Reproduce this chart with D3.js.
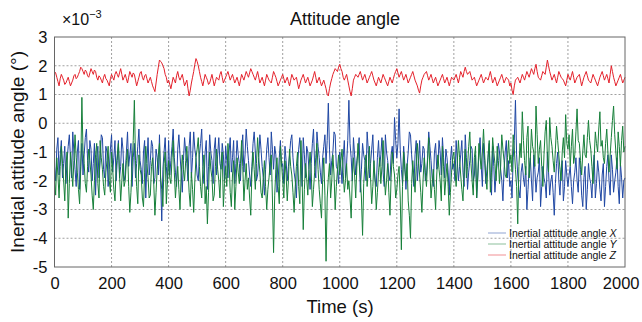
<!DOCTYPE html>
<html><head><meta charset="utf-8">
<script src="https://cdn.jsdelivr.net/npm/d3@7"></script>
<style>body{margin:0;background:#fff;}svg{display:block;font-family:"Liberation Sans",Arial,sans-serif;}</style>
</head><body>
<svg id="c" width="642" height="322"></svg>
<script>
const title = "Attitude angle";
const xLabel = "Time (s)";
const yLabel = "Inertial attitude angle (°)";
const xTicks = [0,200,400,600,800,1000,1200,1400,1600,1800,2000];
const yTicks = [3,2,1,0,-1,-2,-3,-4,-5];
const seriesNames = ["Inertial attitude angle ", "Inertial attitude angle ", "Inertial attitude angle "];
const seriesSym = ["X","Y","Z"];
const colors = ["#1f47a3","#17803a","#e4202a"];
const seriesX = [
-1.5,-2.0,-0.9,-0.5,-1.8,-1.1,-0.6,-1.9,-1.4,-0.8,-2.1,-1.3,-0.8,-0.4,-1.2,-1.9,-0.3,-1.0,-1.6,-2.2,-1.0,-0.6,-2.3,-1.5,-0.7,-1.8,-1.1,-0.5,-0.2,-1.3,-1.7,-0.6,-0.9,-2.0,-1.4,-0.7,-2.5,-1.2,-0.8,-1.9,-1.3,-0.4,-0.5,-1.6,-1.9,-0.8,-1.0,-2.2,-1.6,-0.9,
-0.4,-1.7,-1.2,-0.6,-2.0,-1.3,-0.6,-1.9,-1.5,-0.5,-0.9,-2.0,-1.8,-1.0,-0.3,-1.5,-1.1,-0.7,-2.2,-1.2,-0.7,-1.9,-1.4,-0.8,-0.2,-1.3,-1.6,-2.1,-1.0,-0.6,-2.6,-1.4,-0.5,-1.8,-1.3,-0.6,-0.8,-2.1,-1.9,-0.9,-1.2,-1.8,-0.4,-2.0,-3.4,-1.6,-1.0,-0.5,-1.5,-2.1,
-0.6,-1.8,-1.3,-0.8,-0.2,-1.2,-1.7,-2.2,-0.9,-0.4,-1.1,-1.7,-2.4,-1.3,-0.5,-1.0,-1.4,-2.0,-0.8,-0.3,-1.9,-1.2,-0.3,-0.9,-1.2,-1.8,-2.0,-1.1,-0.7,-0.2,-1.5,-2.1,-1.0,-0.6,-2.3,-1.5,-0.4,-1.0,-1.3,-2.1,-0.9,-0.5,-1.8,-1.1,-0.5,-1.4,-1.6,-0.7,-1.1,-2.0,
-0.8,-1.3,-1.9,-1.0,-0.5,-1.7,-1.2,-0.6,-2.1,-1.4,-0.6,-1.1,-1.4,-2.0,-0.9,-0.4,-1.7,-1.1,-0.2,-0.8,-1.3,-1.8,-2.2,-1.5,-0.7,-0.3,-1.0,-2.0,-1.8,-1.2,-0.4,-0.9,-1.5,-1.9,-2.5,-1.6,-0.9,-0.5,-1.2,-1.8,-0.3,-0.9,-1.6,-0.8,-1.1,-2.4,-2.0,-1.2,-0.6,-1.5,
-1.4,-2.1,-0.8,-1.3,-2.0,-1.5,-1.1,-0.6,-0.4,-1.2,-1.7,-2.0,-2.6,-1.4,-0.9,-0.5,-1.3,-2.2,-0.5,-1.1,-1.9,-0.8,-1.0,-1.6,-2.3,-1.4,-0.7,-0.2,-1.5,-1.9,-0.3,-0.8,-1.2,-1.7,-2.1,-1.2,-0.8,-0.4,-1.4,-0.6,0.7,-0.9,-1.8,-1.3,-1.0,-0.3,-0.4,-1.5,-1.6,-2.1,
-1.0,-1.5,-2.1,-1.2,-0.6,-1.9,-1.4,-0.6,0.8,-0.7,-1.2,-2.0,-0.5,-1.1,-1.8,-1.3,-1.0,-0.5,-2.4,-1.6,-0.7,-1.1,-1.3,-2.0,-0.3,-0.9,-1.9,-1.4,-0.9,-0.4,-1.5,-2.0,-2.2,-1.2,-0.6,-1.5,-1.1,-0.5,-1.7,-2.2,-0.4,-1.0,-1.3,-1.8,-2.0,-1.1,-0.8,-1.4,0.2,-0.6,
-1.2,-0.7,0.5,-0.9,-1.6,-2.1,-0.8,-1.4,-2.3,-1.5,-1.0,-0.3,-0.4,-1.1,-1.7,-2.2,-1.1,-0.6,-2.0,-1.4,-0.6,-1.7,-1.4,-0.8,-0.9,-2.0,-1.8,-1.2,-0.3,-0.8,-1.3,-1.9,-2.2,-1.0,-0.7,-1.6,-1.5,-0.6,-1.0,-1.8,-0.5,-1.2,-1.9,-0.9,-1.2,-1.7,-2.5,-1.3,-0.8,-1.6,
-1.4,-2.0,-0.6,-1.3,-2.0,-1.5,-1.1,-0.6,-1.7,-2.2,-0.4,-1.2,-2.3,-1.7,-1.3,-0.8,-0.9,-2.0,-1.8,-1.1,-2.6,-1.9,-1.0,-0.5,-1.5,-2.2,-0.7,-1.3,-2.1,-1.6,-1.2,-0.7,-1.9,-2.5,-0.8,-1.5,-2.4,-1.8,-1.4,-0.7,-1.0,-1.6,-2.0,-2.7,-1.6,-1.0,-0.6,-1.9,-1.3,-2.2,
-2.0,-2.6,-1.2,-0.6,0.8,-1.1,-1.8,-2.3,-2.6,-1.7,-1.4,-1.9,-2.2,-1.5,-3.0,-2.3,-1.6,-1.2,-2.0,-2.7,-1.1,-1.6,-2.4,-1.9,-1.7,-1.2,-2.9,-2.2,-1.5,-1.9,-2.1,-2.6,-1.0,-1.7,-2.5,-2.0,-1.8,-2.4,-3.2,-2.1,-1.4,-1.0,-2.0,-2.5,-1.6,-1.3,-2.7,-2.2,-1.3,-1.8,
-2.2,-1.8,-1.5,-2.2,-2.8,-2.0,-1.7,-1.2,-2.0,-2.4,-1.2,-1.6,-2.5,-2.9,-1.9,-1.5,-3.0,-2.3,-1.4,-1.9,-2.1,-2.6,-1.6,-1.1,-2.6,-2.1,-1.3,-1.7,-2.3,-2.7,-1.8,-1.4,-2.9,-2.2,-1.5,-1.1,-2.0,-2.5,-1.1,-1.6,-2.4,-2.0,-1.7,-1.2,-2.2,-2.8,-1.4,-1.9,-2.6,-2.0,
-1.9];
const seriesY = [
-1.9,-2.5,-1.2,-1.8,-2.6,-1.5,-0.8,-1.4,-2.0,-2.7,-1.5,-1.0,-3.3,-2.1,-1.0,-1.6,-2.2,-1.3,-0.4,-1.2,-1.7,-2.3,-2.8,-1.6,0.9,-1.0,-1.4,-2.1,-2.4,-1.5,-0.9,-1.3,-1.8,-2.5,-3.0,-2.0,-1.1,-0.7,-2.1,-2.6,-0.6,-1.2,-1.6,-2.2,-2.5,-1.7,-1.3,-0.8,-2.0,-2.4,
-1.0,-1.6,-2.3,-2.7,-1.6,-1.1,-0.7,-1.8,-2.7,-2.0,-1.4,-2.2,-2.0,-1.3,-0.9,-2.2,-3.1,-2.4,-1.5,-0.6,0.8,-1.3,-2.2,-2.8,-1.1,-1.6,-1.8,-2.6,-2.9,-1.7,-0.8,-1.4,-1.9,-2.6,-2.5,-1.5,-1.2,-2.1,-3.2,-2.4,-1.6,-1.1,-0.7,-1.9,-2.3,-2.9,-1.4,-1.0,-2.8,-2.0,
-1.3,-1.9,-2.1,-1.2,-0.6,-1.7,-2.6,-2.0,-1.5,-2.3,-3.0,-1.8,-1.1,-1.6,-2.0,-1.3,-0.8,-1.6,-2.4,-2.9,-1.7,-2.3,-3.1,-2.0,-1.2,-0.9,-0.5,-1.5,-2.2,-2.6,-1.6,-1.1,-2.8,-2.2,-3.5,-2.4,-1.0,-1.6,-1.9,-2.7,-2.5,-1.5,-0.9,-1.6,-2.0,-2.6,-1.4,-1.0,-2.9,-2.1,
-1.5,-2.2,-0.7,-1.3,-2.4,-2.9,-1.8,-1.3,-3.0,-2.2,-1.2,-1.7,-2.1,-1.4,-0.6,-1.5,-2.7,-2.0,-1.4,-2.3,-1.9,-2.6,-3.2,-1.7,-1.0,-1.6,-2.3,-1.4,-0.5,-1.2,-1.7,-2.4,-2.6,-1.9,-1.3,-2.2,-3.0,-2.3,-1.9,-1.4,-1.1,-2.6,-4.5,-2.5,-1.6,-1.2,-2.2,-2.8,-0.8,-1.4,
-2.0,-2.6,-1.3,-1.8,-2.7,-2.0,-0.9,-1.5,-1.8,-2.4,-3.1,-2.2,-1.5,-1.0,-2.2,-2.8,-0.6,-1.9,-3.7,-2.3,-1.4,-1.9,-2.5,-1.6,-1.0,-1.7,-2.9,-2.3,-1.7,-1.2,-0.7,-1.6,-2.3,-2.8,-3.3,-2.0,-1.2,-2.5,-4.8,-2.6,-1.9,-1.4,-2.6,-2.0,-1.1,-1.8,-3.0,-2.2,-1.6,-1.1,
-1.8,-1.3,-0.9,-1.7,-2.4,-2.0,-1.4,-2.3,-2.0,-2.6,-3.3,-1.9,-1.2,-1.8,-2.6,-1.5,-0.7,-1.4,-1.9,-2.6,-3.9,-2.1,-1.5,-1.1,-2.2,-1.6,-0.8,-1.9,-2.8,-2.2,-1.3,-2.0,-3.0,-2.4,-1.7,-1.2,-2.1,-1.5,-0.6,-1.7,-2.5,-2.0,-1.4,-2.4,-3.2,-1.9,-1.0,-1.5,-1.8,-2.6,
-2.3,-1.8,-1.5,-2.6,-4.4,-2.2,-1.0,-1.6,-2.0,-1.4,-2.7,-3.2,-4.0,-2.1,-1.3,-1.9,-2.4,-1.5,-0.7,-1.3,-1.8,-2.4,-3.1,-2.0,-1.2,-1.7,-2.2,-1.3,-0.5,-1.6,-2.6,-2.1,-1.6,-2.3,-3.0,-1.8,-1.1,-1.6,-2.0,-2.7,-0.8,-1.5,-2.5,-1.9,-1.4,-2.2,-3.2,-2.4,-1.7,-1.2,
-1.0,-1.6,-2.2,-1.4,-0.6,-1.2,-1.8,-2.3,-2.7,-1.6,-0.9,-1.9,-1.5,-0.8,-0.3,-1.4,-2.0,-2.5,-1.2,-0.8,-2.6,-1.8,-0.7,-1.2,-1.6,-1.0,-0.2,-1.1,-1.9,-2.3,-1.1,-0.6,-2.4,-1.7,-0.5,-1.0,-1.4,-2.0,-0.8,-1.3,-2.1,-1.5,-0.4,-0.9,-1.3,-1.8,-1.9,-1.2,-0.6,-1.4,
-1.1,-1.7,-0.4,-0.9,-1.6,-2.2,-3.5,-1.5,-0.7,-1.2,0.4,-0.6,-1.3,-1.8,-0.5,-0.1,-1.9,-1.3,-0.2,-0.8,-1.0,-1.5,0.6,-0.4,-1.4,-0.9,-0.6,-1.5,-2.2,-1.1,-0.3,0.1,-1.2,-1.7,0.2,-0.5,-0.8,-1.3,-1.7,-0.9,-0.1,-0.6,-1.1,-1.6,-2.0,-1.0,-0.5,-1.2,0.3,-0.7,
-0.9,-0.4,-1.5,-0.8,-0.2,-1.4,-1.1,-0.3,0.5,-0.6,-0.7,-1.3,-1.8,-1.0,-0.4,-1.1,-1.2,-0.5,0.1,-0.6,-0.9,-1.5,-2.1,-1.2,-0.3,-0.7,-1.0,-0.2,0.4,-0.8,-0.6,-1.2,-1.4,-0.7,-0.2,-1.0,-1.7,-1.1,-0.5,0.1,0.6,-0.4,-1.0,-1.6,-0.3,-0.8,-1.5,-0.6,-0.1,-1.0,
-0.8];
const seriesZ = [
1.8,1.75,1.6,1.45,1.3,1.55,1.7,1.6,1.5,1.35,1.4,1.5,1.6,1.45,1.3,1.4,1.5,1.65,1.7,1.55,1.6,1.7,1.8,1.95,1.9,1.8,1.7,1.85,1.8,1.65,1.6,1.75,1.9,1.8,1.7,1.85,1.8,1.6,1.5,1.65,1.6,1.5,1.4,1.6,1.7,1.55,1.5,1.4,1.3,1.55,
1.7,1.6,1.5,1.7,1.8,1.7,1.6,1.75,1.9,1.7,1.5,1.6,1.7,1.55,1.4,1.6,1.8,1.7,1.6,1.75,1.7,1.5,1.3,1.45,1.6,1.75,1.8,1.6,1.5,1.65,1.7,1.55,1.4,1.5,1.6,1.45,1.3,1.2,1.1,1.4,1.7,1.95,2.2,2.15,2.1,2.0,1.9,1.7,1.6,1.4,
1.5,1.35,1.2,1.4,1.6,1.5,1.4,1.65,1.8,1.6,1.5,1.6,1.7,1.5,1.3,1.4,1.5,1.2,0.95,1.15,1.4,1.6,1.8,2.05,2.25,2.15,2.0,1.8,1.6,1.45,1.3,1.5,1.7,1.6,1.5,1.35,1.4,1.55,1.7,1.5,1.3,1.45,1.6,1.55,1.5,1.7,1.8,1.6,1.4,1.5,
1.6,1.7,1.8,1.65,1.5,1.6,1.7,1.55,1.4,1.5,1.6,1.45,1.3,1.5,1.7,1.6,1.5,1.65,1.8,1.7,1.6,1.75,1.9,1.8,1.7,1.6,1.5,1.65,1.8,1.6,1.4,1.5,1.6,1.45,1.3,1.5,1.7,1.6,1.5,1.45,1.4,1.6,1.8,1.7,1.6,1.45,1.3,1.4,1.5,1.6,
1.7,1.55,1.4,1.5,1.6,1.45,1.3,1.5,1.7,1.6,1.5,1.55,1.6,1.4,1.2,1.35,1.5,1.6,1.7,1.55,1.4,1.5,1.6,1.45,1.3,1.4,1.5,1.65,1.8,1.6,1.4,1.5,1.6,1.45,1.3,1.4,1.5,1.35,1.2,1.0,0.95,1.2,1.4,1.55,1.7,1.8,1.9,1.85,1.8,1.95,
2.05,1.9,1.8,1.6,1.5,1.6,1.7,1.5,1.3,1.1,0.95,1.2,1.5,1.6,1.7,1.65,1.6,1.7,1.8,1.65,1.5,1.6,1.7,1.55,1.4,1.5,1.6,1.7,1.8,1.65,1.5,1.4,1.3,1.45,1.6,1.5,1.4,1.55,1.7,1.6,1.5,1.4,1.3,1.45,1.6,1.5,1.4,1.55,1.7,1.8,
1.9,1.75,1.6,1.7,1.8,1.65,1.5,1.6,1.7,1.55,1.4,1.5,1.6,1.7,1.8,1.65,1.5,1.4,1.3,1.15,1.05,1.3,1.5,1.6,1.7,1.75,1.8,1.65,1.5,1.6,1.7,1.55,1.4,1.5,1.6,1.45,1.3,1.4,1.5,1.6,1.7,1.55,1.4,1.5,1.6,1.45,1.3,1.45,1.6,1.55,
1.5,1.6,1.7,1.55,1.4,1.6,1.8,1.7,1.6,1.8,1.95,1.8,1.7,1.75,1.8,1.65,1.5,1.55,1.6,1.45,1.3,1.4,1.5,1.6,1.7,1.55,1.4,1.5,1.6,1.55,1.5,1.65,1.8,1.6,1.4,1.5,1.6,1.45,1.3,1.4,1.5,1.6,1.7,1.55,1.4,1.5,1.6,1.55,1.5,1.3,
1.4,1.15,1.0,1.3,1.5,1.55,1.6,1.5,1.4,1.55,1.7,1.6,1.5,1.65,1.8,1.7,1.6,1.75,1.9,1.8,1.7,1.9,2.05,1.8,1.6,1.55,1.5,1.65,1.8,1.75,1.7,1.95,2.2,2.0,1.8,1.65,1.5,1.6,1.7,1.55,1.4,1.6,1.8,1.7,1.6,1.55,1.5,1.4,1.3,1.5,
1.7,1.6,1.5,1.65,1.8,1.6,1.4,1.5,1.6,1.65,1.7,1.5,1.3,1.45,1.6,1.7,1.8,1.65,1.5,1.45,1.4,1.55,1.7,1.6,1.5,1.4,1.3,1.45,1.6,1.7,1.8,1.65,1.5,1.6,1.7,1.55,1.4,1.7,2.0,1.8,1.6,1.45,1.3,1.4,1.5,1.6,1.7,1.55,1.4,1.5,
1.6];

const svg = d3.select("#c");
const L = 54.5, R = 625, T = 37, B = 267;
const x = d3.scaleLinear().domain([0,2000]).range([L,R]);
const y = d3.scaleLinear().domain([-5,3]).range([B,T]);

// grid
const g = svg.append("g");
g.selectAll(".gx").data(xTicks.slice(1,-1)).join("line")
  .attr("x1",d=>x(d)).attr("x2",d=>x(d)).attr("y1",T).attr("y2",B)
  .attr("stroke","#777").attr("stroke-width",0.7).attr("stroke-dasharray","2,2");
g.selectAll(".gy").data(yTicks.slice(1,-1)).join("line")
  .attr("y1",d=>y(d)).attr("y2",d=>y(d)).attr("x1",L).attr("x2",R)
  .attr("stroke","#777").attr("stroke-width",0.7).attr("stroke-dasharray","2,2");

// series
const data = [seriesX, seriesY, seriesZ];
data.forEach((s,k)=>{
  const step = 2000/(s.length-1);
  const line = d3.line().x((d,i)=>x(i*step)).y(d=>y(d));
  svg.append("path").datum(s).attr("d",line).attr("fill","none")
    .attr("stroke",colors[k]).attr("stroke-width",1).attr("stroke-linejoin","round");
});

// frame
svg.append("rect").attr("x",L).attr("y",T).attr("width",R-L).attr("height",B-T)
  .attr("fill","none").attr("stroke","#666").attr("stroke-width",1);

// axes
const xAxis = d3.axisBottom(x).tickValues(xTicks).tickSize(0).tickPadding(10).tickFormat(d3.format("d"));
const yAxis = d3.axisLeft(y).tickValues(yTicks).tickSize(0).tickPadding(7).tickFormat(d=>String(d));
const ax = svg.append("g").attr("transform",`translate(0,${B})`).call(xAxis);
ax.select(".domain").remove();
ax.selectAll("text").attr("font-size",16.5).attr("fill","#111").attr("font-family","Liberation Sans, Arial, sans-serif")
  .attr("text-anchor",d=>d===2000?"end":"middle").attr("dx",d=>d===2000?14:0);
const ay = svg.append("g").attr("transform",`translate(${L},0)`).call(yAxis);
ay.select(".domain").remove();
ay.selectAll("text").attr("font-size",16.5).attr("fill","#111").attr("font-family","Liberation Sans, Arial, sans-serif");

// labels
svg.append("text").attr("x",345).attr("y",25).attr("text-anchor","middle")
  .attr("font-size",18).attr("fill","#111").text(title);
svg.append("text").attr("x",340).attr("y",313).attr("text-anchor","middle")
  .attr("font-size",18.5).attr("fill","#111").text(xLabel);
svg.append("text").attr("transform",`translate(24,${(T+B)/2}) rotate(-90)`).attr("text-anchor","middle")
  .attr("font-size",19).attr("fill","#111").text(yLabel);
const mult = svg.append("text").attr("x",62).attr("y",25).attr("font-size",16).attr("fill","#111");
mult.append("tspan").text("×10");
mult.append("tspan").attr("dy",-7).attr("font-size",11).text("−3");

// legend
const lg = svg.append("g");
seriesSym.forEach((s,k)=>{
  const yy = 233 + k*11;
  lg.append("line").attr("x1",488).attr("x2",506).attr("y1",yy).attr("y2",yy)
    .attr("stroke",colors[k]).attr("stroke-opacity",0.5).attr("stroke-width",1);
  const t = lg.append("text").attr("x",509).attr("y",yy+3.8).attr("font-size",10.5).attr("fill","#111");
  t.append("tspan").text(seriesNames[k]);
  t.append("tspan").attr("font-style","italic").text(s);
});
</script>
</body></html>
